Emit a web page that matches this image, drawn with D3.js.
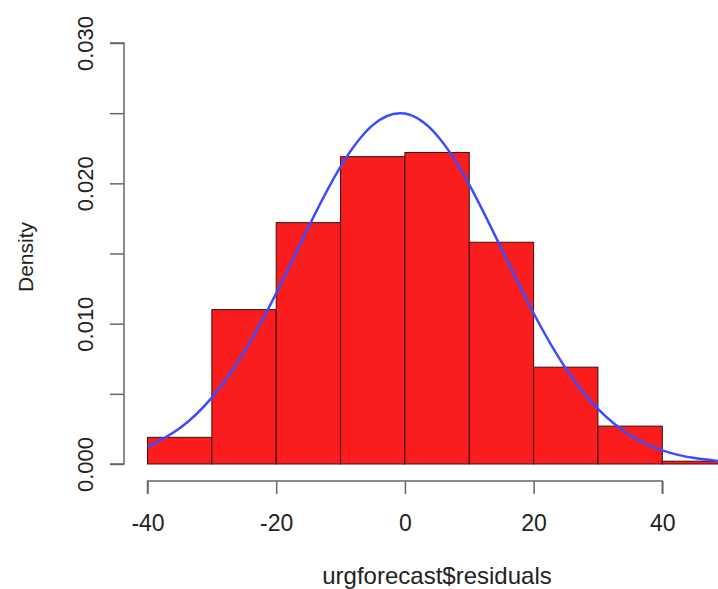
<!DOCTYPE html>
<html>
<head>
<meta charset="utf-8">
<script src="https://cdn.jsdelivr.net/npm/d3@7"></script>
<style>
  body { margin: 0; background: #fff; }
  text { font-family: "Liberation Sans", Arial, sans-serif; fill: #222; }
</style>
</head>
<body>
<svg id="chart" width="718" height="589"></svg>
<script>
"use strict";

// histogram bins (density)
const binEdges = [-40, -30, -20, -10, 0, 10, 20, 30, 40, 50];
const densities = [0.0019, 0.0110, 0.0172, 0.0219, 0.0222, 0.0158, 0.0069, 0.0027, 0.0002];

// blue density curve
const curveX = [-40, -35, -30, -25, -20, -15, -10, -5, 0, 5, 10, 15, 20, 25, 30, 35, 40, 45, 50];
const curveY = [0.00120, 0.00255, 0.00473, 0.00797, 0.01217, 0.01686, 0.02119, 0.02415, 0.02497,
  0.02341, 0.01991, 0.01535, 0.01074, 0.00681, 0.00392, 0.00205, 0.00097, 0.00042, 0.00016];

const xTicks = [-40, -20, 0, 20, 40];
const yTicks = [0, 0.005, 0.010, 0.015, 0.020, 0.025, 0.030];
const yLabels = [0, 0.010, 0.020, 0.030];

const svg = d3.select("#chart");

let x = d3.scaleLinear().domain([-40, 40]).range([147.5, 662.3]);
let y = d3.scaleLinear().domain([0, 0.030]).range([464, 43]);

let bins = densities.map((d, i) => ({ x0: binEdges[i], x1: binEdges[i + 1], d: d }));

svg.selectAll(".bar").data(bins)
  .enter().append("rect")
  .attr("class", "bar")
  .attr("x", d => x(d.x0))
  .attr("y", d => y(d.d))
  .attr("width", d => x(d.x1) - x(d.x0))
  .attr("height", d => y(0) - y(d.d))
  .style("fill", "#fb1d1d")
  .style("stroke", "#3a1010")
  .style("stroke-width", 1);

let line = d3.line()
  .x((d, i) => x(curveX[i]))
  .y(d => y(d))
  .curve(d3.curveNatural);

svg.append("path")
  .datum(curveY)
  .attr("d", line)
  .style("fill", "none")
  .style("stroke", "#3b4bff")
  .style("stroke-width", 2.5);

// y axis
let yAxis = d3.axisLeft(y).tickValues(yTicks).tickSize(14)
  .tickFormat(d => yLabels.some(v => Math.abs(v - d) < 1e-9) ? d3.format(".3f")(d) : "");
let gy = svg.append("g").attr("transform", "translate(124,0)").call(yAxis);
gy.select(".domain").attr("d", `M-14,${y(0.030)}H0V${y(0)}H-14`);
gy.selectAll("line, .domain").style("stroke", "#666").style("stroke-width", 1.5);
gy.selectAll("text")
  .attr("x", null).attr("dy", null)
  .attr("transform", "translate(-31,0) rotate(-90)")
  .attr("text-anchor", "middle")
  .style("font-size", "22px")
  .style("fill", "#222");

// x axis, plain hyphen for negatives like R does
let xAxis = d3.axisBottom(x).tickValues(xTicks).tickSize(13).tickFormat(d => String(d));
let gx = svg.append("g").attr("transform", "translate(0,481)").call(xAxis);
gx.select(".domain").attr("d", `M${x(-40)},13V0H${x(40)}V13`);
gx.selectAll("line, .domain").style("stroke", "#666").style("stroke-width", 1.5);
gx.selectAll("text")
  .attr("y", 50).attr("dy", null)
  .style("font-size", "23px")
  .style("fill", "#222");

svg.append("text")
  .attr("x", 437).attr("y", 584)
  .attr("text-anchor", "middle")
  .style("font-size", "24px")
  .text("urgforecast$residuals");

svg.append("text")
  .attr("transform", "translate(33,257) rotate(-90)")
  .attr("text-anchor", "middle")
  .style("font-size", "21px")
  .text("Density");
</script>
</body>
</html>
